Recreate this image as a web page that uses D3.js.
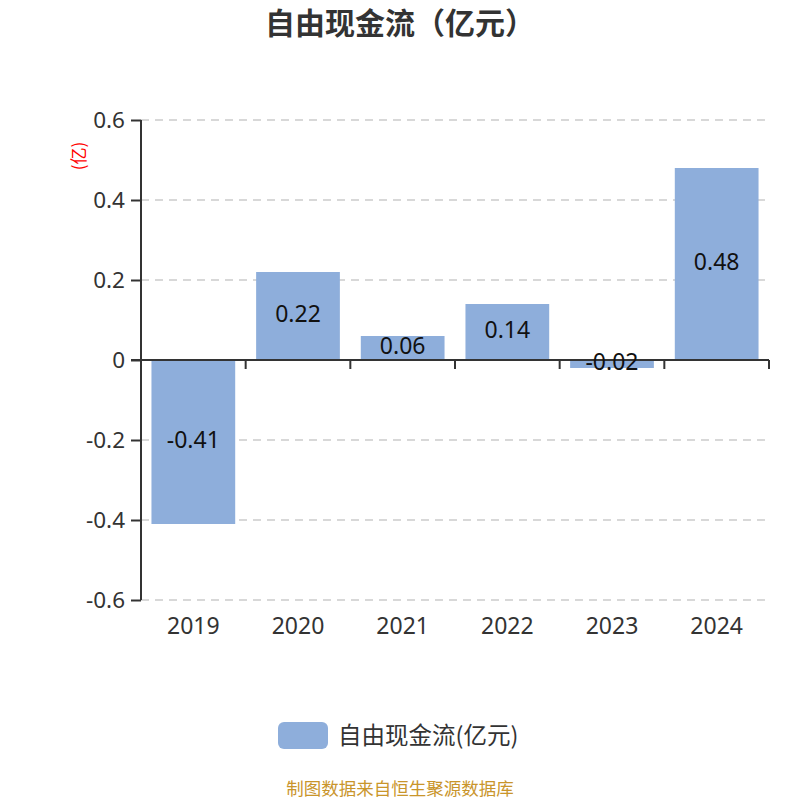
<!DOCTYPE html>
<html>
<head>
<meta charset="utf-8">
<script src="https://cdn.jsdelivr.net/npm/d3@7"></script>
<style>
  body { margin: 0; background: #fff; }
  text { font-family: "Noto Sans", "Noto Sans CJK SC", sans-serif; }
</style>
</head>
<body>
<svg id="chart" width="800" height="800"></svg>
<script>
// data
var years = ["2019", "2020", "2021", "2022", "2023", "2024"];
var values = [-0.41, 0.22, 0.06, 0.14, -0.02, 0.48];
var yTicks = [-0.6, -0.4, -0.2, 0, 0.2, 0.4, 0.6];

var svg = d3.select("#chart");
var plotLeft = 141, plotRight = 769, plotTop = 120, plotBottom = 600;

// plain hyphen as minus, like the reference
var fmt1 = function(d){ return d == 0 ? "0" : d.toFixed(1); };
var fmt2 = function(d){ return d.toFixed(2); };

var x = d3.scaleBand()
	.domain(years)
	.range([plotLeft, plotRight])
	.paddingInner(0.2)
	.paddingOuter(0.1);
var y = d3.scaleLinear()
	.domain([-0.6, 0.6])
	.range([plotBottom, plotTop]);

// title
svg.append("text")
	.attr("x", 400).attr("y", 34)
	.attr("text-anchor", "middle")
	.attr("font-size", 30).attr("font-weight", "bold")
	.attr("fill", "#333")
	.style("font-family", "'Noto Sans CJK SC', sans-serif")
	.text("自由现金流（亿元）");

// grid lines
svg.append("g").selectAll("line")
	.data(yTicks.filter(function(d){ return d != 0; }))
	.enter().append("line")
	.attr("x1", plotLeft).attr("x2", plotRight)
	.attr("y1", function(d){ return y(d); })
	.attr("y2", function(d){ return y(d); })
	.attr("stroke", "#ccc").attr("stroke-width", 1.5)
	.attr("stroke-dasharray", "8,6");

// y axis
var yAxis = svg.append("g")
	.attr("transform", "translate(" + plotLeft + ",0)")
	.call(d3.axisLeft(y).tickValues(yTicks).tickSize(10).tickPadding(6).tickFormat(fmt1));
yAxis.select(".domain").attr("stroke", "#333").attr("stroke-width", 2).attr("d", "M0," + plotTop + "V" + plotBottom);
yAxis.selectAll(".tick line").attr("stroke", "#333").attr("stroke-width", 2);
yAxis.selectAll(".tick text").attr("fill", "#333").attr("font-size", 22.5);

// bars
svg.append("g").selectAll("rect")
	.data(values)
	.enter().append("rect")
	.attr("x", function(d, i){ return x(years[i]); })
	.attr("width", x.bandwidth())
	.attr("y", function(d){ return y(Math.max(0, d)); })
	.attr("height", function(d){ return Math.abs(y(d) - y(0)); })
	.attr("fill", "#8eaedb");

// x axis (ticks on band boundaries)
var step = x.step();
var xg = svg.append("g");
xg.append("line")
	.attr("x1", plotLeft - 10).attr("x2", plotRight)
	.attr("y1", y(0)).attr("y2", y(0))
	.attr("stroke", "#333").attr("stroke-width", 2);
xg.selectAll(".xt")
	.data(d3.range(years.length + 1))
	.enter().append("line")
	.attr("x1", function(i){ return plotLeft + i * step; })
	.attr("x2", function(i){ return plotLeft + i * step; })
	.attr("y1", y(0)).attr("y2", y(0) + 9)
	.attr("stroke", "#333").attr("stroke-width", 2);
xg.selectAll(".xl")
	.data(years)
	.enter().append("text")
	.attr("x", function(d){ return x(d) + x.bandwidth() / 2; })
	.attr("y", plotBottom + 34)
	.attr("text-anchor", "middle")
	.attr("font-size", 23).attr("fill", "#333")
	.text(function(d){ return d; });

// value labels
svg.append("g").selectAll("text")
	.data(values)
	.enter().append("text")
	.attr("x", function(d, i){ return x(years[i]) + x.bandwidth() / 2; })
	.attr("y", function(d){ return (y(d) + y(0)) / 2; })
	.attr("dy", "0.25em")
	.attr("text-anchor", "middle")
	.attr("font-size", 23).attr("fill", "#111")
	.text(fmt2);

// y unit label
svg.append("text")
	.attr("transform", "translate(85,156) rotate(-90)")
	.attr("text-anchor", "middle")
	.attr("font-size", 17).attr("fill", "red")
	.style("font-family", "'Noto Sans CJK SC', sans-serif")
	.text("(亿)");

// legend
svg.append("rect")
	.attr("x", 278).attr("y", 722)
	.attr("width", 50).attr("height", 27)
	.attr("rx", 6)
	.attr("fill", "#8eaedb");
svg.append("text")
	.attr("x", 338).attr("y", 744)
	.attr("font-size", 23.5).attr("fill", "#333")
	.style("font-family", "'Noto Sans CJK SC', sans-serif")
	.text("自由现金流(亿元)");

// source
svg.append("text")
	.attr("x", 400).attr("y", 795)
	.attr("text-anchor", "middle")
	.attr("font-size", 17.5).attr("fill", "#c9952b")
	.style("font-family", "'Noto Sans CJK SC', sans-serif")
	.text("制图数据来自恒生聚源数据库");
</script>
</body>
</html>
